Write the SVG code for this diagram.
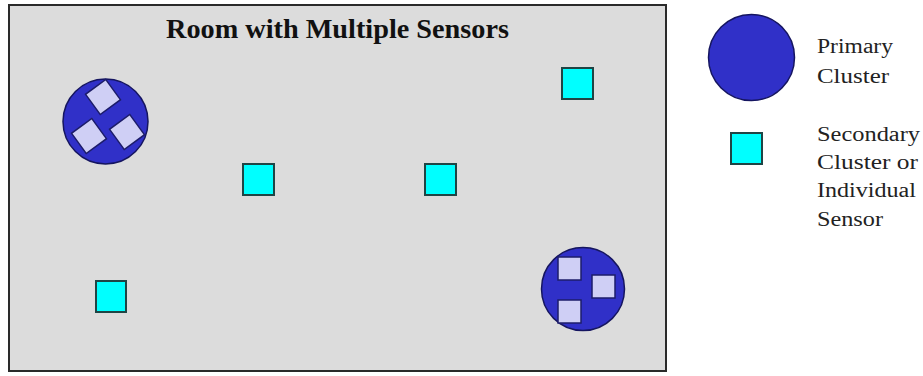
<svg xmlns="http://www.w3.org/2000/svg" width="923" height="376" viewBox="0 0 923 376">
<style>
.room{fill:#dcdcdc;stroke:#2a2a2a;stroke-width:2}
.primary{fill:#3030c8;stroke:#151560;stroke-width:1.5}
.inner{fill:#cfcff5;stroke:#1c1c6a;stroke-width:1.5}
.sensor{fill:#00ffff;stroke:#1f4545;stroke-width:2}
.title{font-family:"Liberation Serif","Times New Roman",serif;font-weight:bold;font-size:27px;fill:#111}
.leg{font-family:"Liberation Serif","Times New Roman",serif;font-size:20px;fill:#222}
</style>
<rect width="923" height="376" fill="#ffffff"/>
<g id="room">
<rect class="room" x="9" y="5" width="657" height="366"/>
<text class="title" x="166" y="38" textLength="343" lengthAdjust="spacingAndGlyphs">Room with Multiple Sensors</text>
</g>
<g id="primary-cluster-1">
<circle class="primary" cx="105.5" cy="121.5" r="42.5"/>
<rect class="inner" x="-12.5" y="-12.5" width="25" height="25" transform="translate(103 97) rotate(-36)"/>
<rect class="inner" x="-12.5" y="-12.5" width="25" height="25" transform="translate(89 136) rotate(-36)"/>
<rect class="inner" x="-12.5" y="-12.5" width="25" height="25" transform="translate(127 132) rotate(-36)"/>
</g>
<g id="primary-cluster-2">
<circle class="primary" cx="583" cy="289" r="41.5"/>
<rect class="inner" x="558" y="257" width="23" height="23"/>
<rect class="inner" x="592" y="275" width="23" height="23"/>
<rect class="inner" x="558" y="300" width="23" height="23"/>
</g>
<g id="sensor-1"><rect class="sensor" x="243" y="164" width="31" height="31"/></g>
<g id="sensor-2"><rect class="sensor" x="425" y="164" width="31" height="31"/></g>
<g id="sensor-3"><rect class="sensor" x="562" y="68" width="31" height="31"/></g>
<g id="sensor-4"><rect class="sensor" x="96" y="281" width="30" height="31"/></g>
<g id="connectors"></g>
<g id="legend-primary">
<circle class="primary" cx="751.5" cy="57.5" r="43"/>
<text class="leg" x="817" y="53" textLength="76" lengthAdjust="spacingAndGlyphs">Primary</text>
<text class="leg" x="817" y="83" textLength="72" lengthAdjust="spacingAndGlyphs">Cluster</text>
</g>
<g id="legend-secondary">
<rect class="sensor" x="731" y="133" width="31" height="31"/>
<text class="leg" x="817" y="141" textLength="103" lengthAdjust="spacingAndGlyphs">Secondary</text>
<text class="leg" x="817" y="169" textLength="101" lengthAdjust="spacingAndGlyphs">Cluster or</text>
<text class="leg" x="817" y="197" textLength="99" lengthAdjust="spacingAndGlyphs">Individual</text>
<text class="leg" x="817" y="226" textLength="66" lengthAdjust="spacingAndGlyphs">Sensor</text>
</g>
</svg>
